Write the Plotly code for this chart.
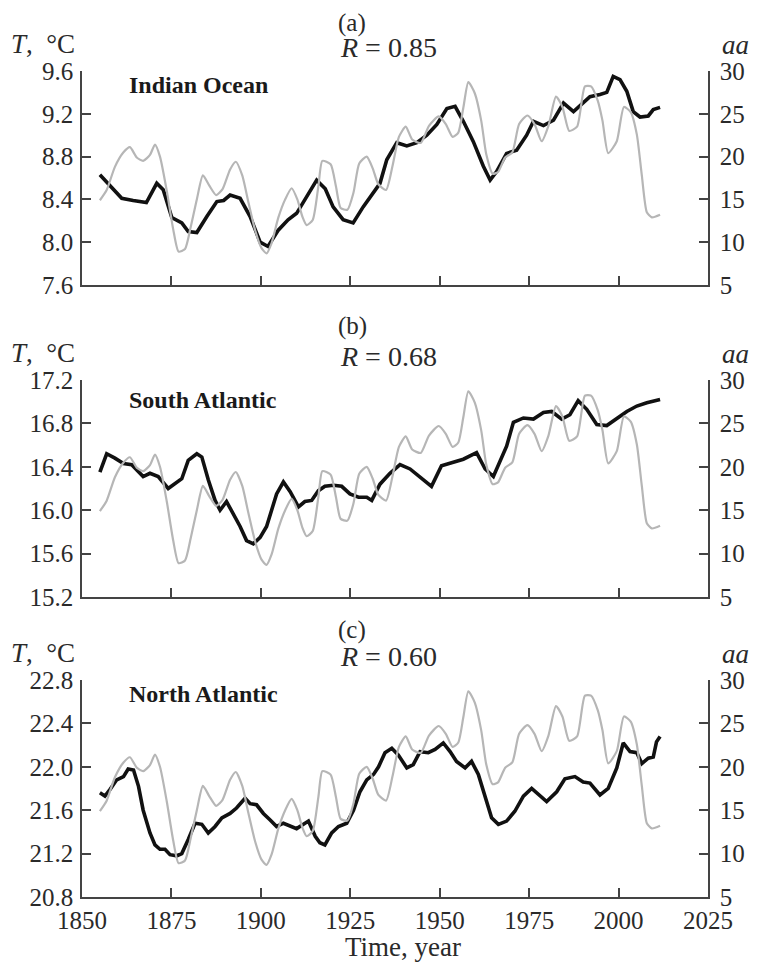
import plotly.graph_objects as go

# ---------------- data ----------------
years_aa = [1855.0, 1856.9, 1859.2, 1861.6, 1863.4, 1865.3, 1867.1, 1869.0, 1870.4, 1871.8,
            1873.7, 1875.5, 1877.0, 1878.8, 1880.4, 1882.1, 1883.8, 1885.6, 1887.5, 1889.3,
            1891.4, 1893.0, 1894.8, 1896.5, 1898.4, 1900.2, 1901.6, 1903.0, 1904.9, 1906.8,
            1908.6, 1910.2, 1911.6, 1912.8, 1914.5, 1916.1, 1917.2, 1919.5, 1921.0, 1922.3,
            1924.2, 1925.9, 1927.5, 1929.6, 1931.3, 1932.8, 1935.0, 1936.8, 1938.6, 1940.5,
            1942.3, 1944.7, 1947.0, 1949.7, 1951.7, 1953.6, 1955.2, 1956.6, 1958.0, 1959.8,
            1961.6, 1963.0, 1964.8, 1966.3, 1968.3, 1970.3, 1972.2, 1974.5, 1976.5, 1978.5,
            1980.4, 1982.5, 1984.3, 1986.2, 1988.4, 1990.6, 1992.3, 1994.2, 1995.5, 1997.1,
            1999.5, 2001.5, 2003.4, 2005.1, 2006.5, 2007.9, 2009.3, 2011.6]
aa_index = [14.9, 16.1, 18.8, 20.5, 21.1, 19.9, 19.5, 20.2, 21.4, 20.0,
            16.0, 11.5, 8.9, 9.2, 11.8, 15.0, 17.8, 16.6, 15.5, 16.2,
            18.5, 19.4, 17.8, 14.7, 11.4, 9.3, 8.7, 9.9, 12.9, 15.0,
            16.3, 15.0, 13.0, 12.0, 12.6, 16.6, 19.5, 19.1, 16.5, 14.0,
            13.8, 15.8, 19.2, 20.0, 18.6, 16.8, 16.1, 18.9, 22.3, 23.5,
            22.0, 21.6, 23.6, 24.7, 23.8, 22.3, 22.8, 25.7, 28.7, 27.4,
            24.2, 20.3, 18.0, 18.2, 19.9, 20.5, 23.8, 24.8, 23.8, 21.8,
            23.6, 27.0, 25.8, 23.0, 23.5, 28.2, 28.2, 26.5, 24.2, 20.4,
            21.8, 25.8, 25.2, 22.6, 17.8, 13.5, 12.9, 13.2]

years_io = [1855, 1857.8, 1861.1, 1864.3, 1868, 1870.9, 1872.7, 1875.1, 1877.9, 1879.7,
            1882.1, 1884.9, 1887.7, 1889.6, 1891.4, 1894.2, 1897, 1899.8, 1902, 1904.8,
            1907.6, 1910, 1912.8, 1915.6, 1918, 1920.2, 1923, 1925.8, 1928.6, 1931.4,
            1933.3, 1935.2, 1938, 1940.8, 1943.6, 1946.4, 1949.2, 1952, 1954.3, 1956.6,
            1959.4, 1962.2, 1964.1, 1965.9, 1968.7, 1971.5, 1974.3, 1976.2, 1979, 1981.8,
            1984.6, 1987.4, 1990.1, 1992, 1994.8, 1996.7, 1998.5, 2000.4, 2002.3, 2004.1,
            2006, 2008.3, 2009.7, 2011.6]
temp_io = [8.63, 8.53, 8.41, 8.39, 8.37, 8.55, 8.49, 8.23, 8.18, 8.10,
           8.09, 8.24, 8.38, 8.39, 8.44, 8.41, 8.24, 8.00, 7.96, 8.11,
           8.21, 8.27, 8.43, 8.58, 8.50, 8.33, 8.21, 8.18, 8.33, 8.46,
           8.55, 8.77, 8.93, 8.90, 8.93, 9.00, 9.10, 9.25, 9.27, 9.13,
           8.94, 8.71, 8.58, 8.66, 8.83, 8.86, 9.00, 9.13, 9.09, 9.14,
           9.30, 9.22, 9.30, 9.36, 9.38, 9.40, 9.55, 9.52, 9.41, 9.22,
           9.17, 9.18, 9.24, 9.26]

years_sa = [1855.0, 1856.9, 1859.2, 1861.6, 1863.9, 1865.3, 1867.1, 1869.0, 1871.3, 1874.1,
            1875.5, 1877.9, 1879.7, 1882.1, 1883.5, 1885.3, 1887.2, 1888.6, 1890.4, 1892.3,
            1894.2, 1896.0, 1897.9, 1899.8, 1901.6, 1903.0, 1904.4, 1906.3, 1908.2, 1910.5,
            1912.3, 1914.2, 1916.1, 1917.9, 1920.3, 1922.6, 1924.9, 1927.3, 1929.6, 1931.0,
            1933.3, 1936.1, 1938.9, 1941.7, 1944.5, 1947.7, 1950.5, 1953.8, 1956.6, 1960.3,
            1962.7, 1965.0, 1966.8, 1968.7, 1970.6, 1973.4, 1976.2, 1979.0, 1981.3, 1984.1,
            1986.4, 1988.7, 1991.1, 1993.9, 1996.7, 1999.5, 2002.3, 2005.1, 2007.9, 2011.6]
temp_sa = [16.35, 16.52, 16.48, 16.43, 16.42, 16.37, 16.31, 16.34, 16.31, 16.20,
           16.23, 16.29, 16.46, 16.52, 16.49, 16.28, 16.09, 16.00, 16.08, 15.97,
           15.85, 15.72, 15.69, 15.75, 15.85, 16.00, 16.15, 16.26, 16.17, 16.03,
           16.08, 16.09, 16.18, 16.22, 16.23, 16.22, 16.15, 16.12, 16.12, 16.09,
           16.24, 16.34, 16.42, 16.38, 16.31, 16.22, 16.41, 16.44, 16.47, 16.53,
           16.38, 16.31, 16.44, 16.59, 16.81, 16.85, 16.84, 16.90, 16.91, 16.84,
           16.88, 17.01, 16.93, 16.79, 16.78, 16.85, 16.91, 16.96, 16.99, 17.02]

years_na = [1855.0, 1856.4, 1857.8, 1859.7, 1861.6, 1862.9, 1864.4, 1865.8, 1867.1, 1869.0,
            1870.4, 1871.8, 1873.2, 1874.6, 1876.5, 1877.9, 1879.7, 1881.6, 1883.5, 1885.3,
            1887.2, 1889.1, 1891.4, 1893.2, 1895.6, 1897.0, 1898.8, 1900.7, 1902.6, 1904.4,
            1906.3, 1908.2, 1910.0, 1911.9, 1913.3, 1915.2, 1916.5, 1917.9, 1919.8, 1921.7,
            1924.0, 1925.9, 1927.7, 1929.6, 1931.5, 1932.9, 1934.7, 1936.6, 1938.4, 1940.8,
            1942.6, 1944.5, 1946.8, 1948.7, 1951.0, 1952.9, 1954.7, 1957.1, 1958.9, 1960.8,
            1962.7, 1964.5, 1966.4, 1968.7, 1971.0, 1973.4, 1975.7, 1978.0, 1979.9, 1982.7,
            1985.0, 1987.8, 1990.1, 1992.0, 1994.8, 1997.1, 1999.5, 2001.3, 2003.2, 2005.1,
            2006.5, 2008.3, 2009.7, 2010.6, 2011.6]
temp_na = [21.76, 21.73, 21.79, 21.88, 21.91, 21.98, 21.97, 21.82, 21.60, 21.39,
           21.28, 21.24, 21.24, 21.19, 21.18, 21.20, 21.33, 21.48, 21.47, 21.39,
           21.45, 21.53, 21.57, 21.62, 21.71, 21.66, 21.65, 21.57, 21.51, 21.45,
           21.48, 21.45, 21.43, 21.47, 21.50, 21.36, 21.30, 21.28, 21.39, 21.45,
           21.48, 21.60, 21.77, 21.88, 21.93, 22.00, 22.13, 22.17, 22.11, 21.99,
           22.02, 22.14, 22.13, 22.16, 22.22, 22.14, 22.05, 21.99, 22.05, 21.93,
           21.71, 21.53, 21.47, 21.50, 21.59, 21.73, 21.80, 21.74, 21.68, 21.77,
           21.89, 21.91, 21.86, 21.85, 21.74, 21.80, 21.99, 22.22, 22.14, 22.13,
           22.03, 22.08, 22.09, 22.23, 22.28]

year_ticks = [1850, 1875, 1900, 1925, 1950, 1975, 2000, 2025]
aa_ticks = [5, 10, 15, 20, 25, 30]
t_ticks_io = ["7.6", "8.0", "8.4", "8.8", "9.2", "9.6"]
t_ticks_sa = ["15.2", "15.6", "16.0", "16.4", "16.8", "17.2"]
t_ticks_na = ["20.8", "21.2", "21.6", "22.0", "22.4", "22.8"]

panel_letters = ["(a)", "(b)", "(c)"]
panel_r = ["0.85", "0.68", "0.60"]
regions = ["Indian Ocean", "South Atlantic", "North Atlantic"]

assert len(years_aa) == len(aa_index)
assert len(years_io) == len(temp_io)
assert len(years_sa) == len(temp_sa)
assert len(years_na) == len(temp_na)

# ---------------- layout helpers ----------------
OFF = 8                      # page body margin of the browser
W, H = 758 - OFF, 964 - OFF  # figure size so that it fits the window
FONT = "Liberation Serif"
TXT = "#2a2a2a"
AXC = "#444444"


def px(x):
    return (x - OFF) / W


def py(y):
    return 1 - (y - OFF) / H


X0, X1 = 82, 708
panels_px = [(71, 285), (380, 597), (680, 897)]
letter_gap = [48, 54, 50]
region_gap = [14, 20, 14]

temps = [(years_io, temp_io, t_ticks_io), (years_sa, temp_sa, t_ticks_sa), (years_na, temp_na, t_ticks_na)]

fig = go.Figure()
layout = dict(
    template="none",
    width=W, height=H, margin=dict(l=0, r=0, t=0, b=0, autoexpand=False),
    paper_bgcolor="white", plot_bgcolor="white", showlegend=False,
    font=dict(family=FONT, size=24, color=TXT),
)
annotations = []
tickfont = dict(family=FONT, size=25, color=TXT)


def note(text, x, y, size, xanchor="center", color=TXT):
    return dict(text=text, x=px(x), y=py(y), xref="paper", yref="paper", showarrow=False,
                xanchor=xanchor, yanchor="middle", font=dict(family=FONT, size=size, color=color))


for i, ((yrs, tv, tt), (top, bot)) in enumerate(zip(temps, panels_px)):
    xa = "x" if i == 0 else f"x{i + 1}"
    yl = "y" if i == 0 else f"y{2 * i + 1}"
    yr = f"y{2 * i + 2}"
    xkey = "xaxis" if i == 0 else f"xaxis{i + 1}"
    ylkey = "yaxis" if i == 0 else f"yaxis{2 * i + 1}"
    yrkey = f"yaxis{2 * i + 2}"

    fig.add_trace(go.Scatter(x=years_aa, y=aa_index, xaxis=xa, yaxis=yr, mode="lines",
                             line=dict(color="#b6b6b6", width=2.2, shape="spline", smoothing=0.6),
                             hoverinfo="skip"))
    fig.add_trace(go.Scatter(x=yrs, y=tv, xaxis=xa, yaxis=yl, mode="lines",
                             line=dict(color="#111111", width=3.6),
                             hoverinfo="skip"))

    tvals = [float(t) for t in tt]
    common = dict(showline=True, linecolor=AXC, linewidth=1.5, mirror=False,
                  ticks="inside", ticklen=9, tickwidth=1.5, tickcolor=AXC,
                  showgrid=False, zeroline=False, automargin=False,
                  tickfont=tickfont)
    layout[xkey] = dict(
        domain=[px(X0), px(X1)], range=[1850, 2025], anchor=yl,
        tickvals=year_ticks, ticktext=[str(v) for v in year_ticks],
        showticklabels=(i == 2), ticklabelstandoff=0, **common)
    layout[ylkey] = dict(
        domain=[py(bot), py(top)], range=[tvals[0], tvals[-1]], anchor=xa,
        tickvals=tvals, ticktext=tt, ticklabelstandoff=2, **common)
    layout[yrkey] = dict(
        overlaying=yl, side="right", range=[5, 30], anchor=xa,
        tickvals=aa_ticks, ticktext=[str(v) for v in aa_ticks], ticklabelstandoff=5, **common)

    annotations += [
        note(panel_letters[i], 352, top - letter_gap[i], 25),
        note(f"<i>R</i> = {panel_r[i]}", 388, top - 24, 28),
        note("<i>T</i>,&nbsp; °C", 9, top - 27, 27, xanchor="left"),
        note("<i>aa</i>", 751, top - 26, 27, xanchor="right"),
        note(f"<b>{regions[i]}</b>", 127, top + region_gap[i], 24, xanchor="left", color="#1a1a1a"),
    ]

annotations.append(note("Time, year", 403, 947, 27))
layout["annotations"] = annotations
fig.update_layout(**layout)
fig.write_html("out.html")
